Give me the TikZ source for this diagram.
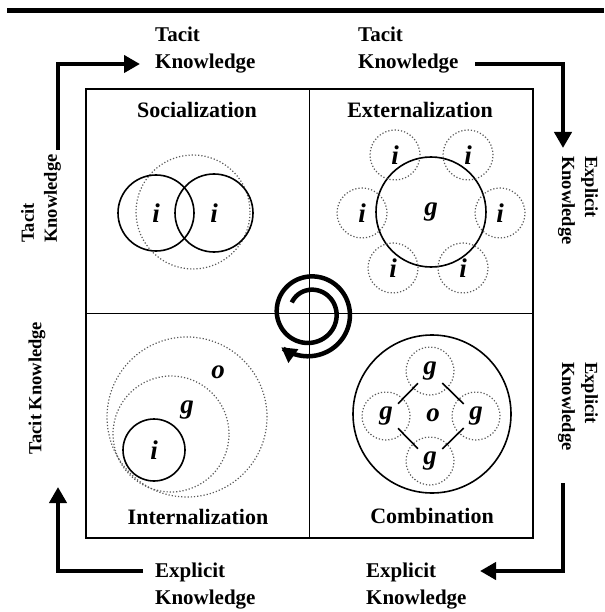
\documentclass[tikz,border=0pt]{standalone}
\usepackage{fontspec}
\setmainfont{Liberation Serif}
\usetikzlibrary{arrows.meta}
\tikzset{
  lab/.style={font=\fontsize{21}{27}\selectfont\bfseries, align=left, inner sep=0pt},
  slab/.style={font=\fontsize{18.5}{23}\selectfont\bfseries, align=left, inner sep=0pt},
  ttl/.style={font=\fontsize{22}{24}\selectfont\bfseries, inner sep=0pt},
  let/.style={font=\fontsize{27}{30}\selectfont\bfseries\itshape, inner sep=0pt},
  boxline/.style={line width=1.4pt},
  bigarrow/.style={line width=4.5pt, -{Triangle[length=16pt,width=17pt]}},
  solidc/.style={circle, draw, line width=1.6pt, inner sep=0pt},
  dotc/.style={circle, draw=black!65, line width=1.2pt, dash pattern=on 1.2pt off 2pt, inner sep=0pt},
  gnode/.style={circle, minimum size=34pt, inner sep=0pt, font=\fontsize{27}{30}\selectfont\bfseries\itshape},
}
\begin{document}
\begin{tikzpicture}[x=1pt, y=-1pt]
\path[use as bounding box] (0,0) rectangle (604,612);
% top bar
\draw[line width=5pt] (7,11) -- (604,11);
% frame
\draw[boxline] (86,89) rectangle (533,538);
\coordinate (vt) at (309.5,89); \coordinate (vb) at (309.5,538);
\coordinate (hl) at (86,313.5); \coordinate (hr) at (533,313.5);
\draw[boxline] (vt) -- (vb);
\draw[boxline] (hl) -- (hr);
% outer labels
\node[lab, anchor=west] (tk1) at (155,50) {Tacit\\Knowledge};
\node[lab, anchor=west] (tk2) at (358,50) {Tacit\\Knowledge};
\node[lab, anchor=west] (ek1) at (155,586) {Explicit\\Knowledge};
\node[lab, anchor=west] (ek2) at (366,586) {Explicit\\Knowledge};
\node[slab, rotate=-90, anchor=west] (ek3) at (578,156) {Explicit\\Knowledge};
\node[slab, rotate=-90, anchor=west] (ek4) at (578,362) {Explicit\\Knowledge};
\node[slab, rotate=90, anchor=west] (tk3) at (41,243) {Tacit\\Knowledge};
\node[slab, rotate=90] (tk4) at (37,388) {Tacit Knowledge};
% outer arrows
\coordinate (a1s) at (58,150); \coordinate (a1e) at (140,64);
\coordinate (a2s) at (475,64); \coordinate (a2e) at (563,148);
\coordinate (a3s) at (563,483); \coordinate (a3e) at (480,571);
\coordinate (a4s) at (143,571); \coordinate (a4e) at (58,487);
\draw[bigarrow] (a1s) |- (a1e);
\draw[bigarrow] (a2s) -| (a2e);
\draw[bigarrow] (a3s) |- (a3e);
\draw[bigarrow] (a4s) -| (a4e);
% titles
\node[ttl] (tsoc) at (197,110) {Socialization};
\node[ttl] (text) at (420,110) {Externalization};
\node[ttl] (tint) at (198,517) {Internalization};
\node[ttl] (tcom) at (432,516) {Combination};
% Socialization
\node[dotc, minimum size=114pt] (sd) at (193,212) {};
\node[solidc, minimum size=76pt, let] (si1) at (156,213) {i};
\node[solidc, minimum size=78pt, let] (si2) at (214,213) {i};
% Externalization
\node[solidc, minimum size=110pt, let] (eg) at (431,212) {g};
\foreach \n/\px/\py in {e1/395/155, e2/468/155, e3/362/213, e4/500/213, e5/393/268, e6/463/268}{
  \node[dotc, minimum size=50pt, let] (\n) at (\px,\py) {i};
}
% Internalization
\node[dotc, minimum size=160pt] (io) at (187,417) {};
\node[dotc, minimum size=116pt] (ig) at (171,434) {};
\node[solidc, minimum size=62pt, let] (ii) at (154,450) {i};
\node[let] (iol) at (218,372) {o};
\node[let] (igl) at (187,410) {g};
% Combination
\node[solidc, minimum size=158pt] (co) at (432,414) {};
\foreach \n/\px/\py in {ct/430/371, cl/386/416, cr/476/416, cb/430/461}{
  \node[dotc, minimum size=48pt] (d\n) at (\px,\py) {};
  \node[gnode] (\n) at (\px,\py) {g};
}
\node[let] (col) at (433,415) {o};
\draw[line width=1.6pt] (ct) -- (cl);
\draw[line width=1.6pt] (ct) -- (cr);
\draw[line width=1.6pt] (cb) -- (cl);
\draw[line width=1.6pt] (cb) -- (cr);
% spiral
\draw[line width=4.5pt, -{Triangle[length=15pt,width=16pt]}]
  plot[domain=0:640, samples=160, smooth]
  ({310+(21+24*\x/648)*cos(210+\x)}, {313+(21+24*\x/648)*sin(210+\x)});
\end{tikzpicture}
\end{document}
